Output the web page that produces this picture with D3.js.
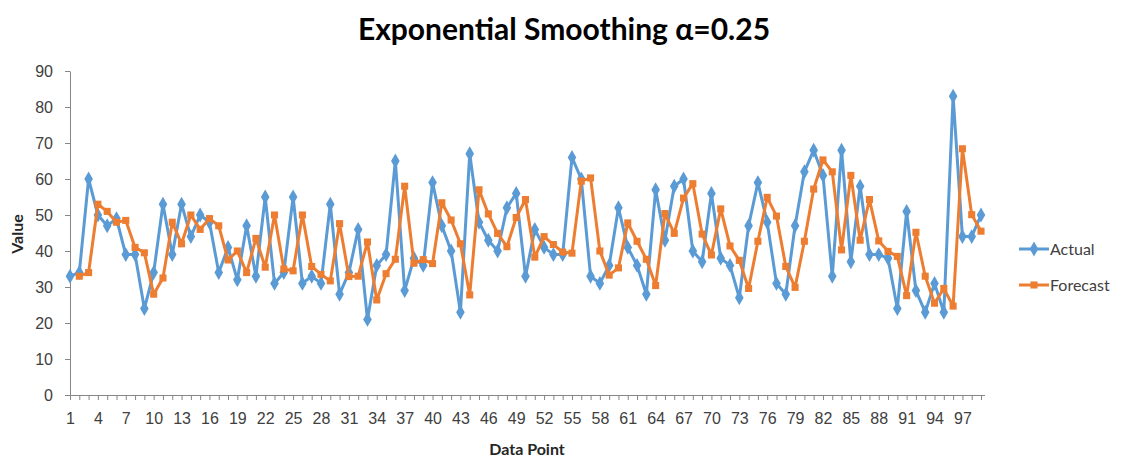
<!DOCTYPE html>
<html>
<head>
<meta charset="utf-8">
<script src="https://cdn.jsdelivr.net/npm/d3@7"></script>
<style>
  html, body { margin: 0; padding: 0; background: #fff; }
  svg { display: block; font-family: Lato, "Open Sans", sans-serif; }
  .axis path, .axis line { stroke: #868686; }
  .axis text { fill: #404040; font-size: 16px; }
</style>
</head>
<body>
<svg id="chart" width="1134" height="459"></svg>
<script>
// Data points 1..99
const points = d3.range(1, 100);

const actual = [
  33, 34, 60, 50, 47, 49, 39, 39, 24, 34,
  53, 39, 53, 44, 50, 48, 34, 41, 32, 47,
  33, 55, 31, 34, 55, 31, 33, 31, 53, 28,
  34, 46, 21, 36, 39, 65, 29, 38, 36, 59,
  47, 40, 23, 67, 48, 43, 40, 52, 56, 33,
  46, 41, 39, 39, 66, 60, 33, 31, 36, 52,
  41, 36, 28, 57, 43, 58, 60, 40, 37, 56,
  38, 36, 27, 47, 59, 48, 31, 28, 47, 62,
  68, 61, 33, 68, 37, 58, 39, 39, 38, 24,
  51, 29, 23, 31, 23, 83, 44, 44, 50
];

// Forecast begins at point 2
const forecast = [
  null, 33, 34, 53, 51, 48, 48.5, 41, 39.5, 28,
  32.5, 48, 42, 50, 46, 49, 47, 37.5, 40, 34,
  43.5, 35.5, 50, 35, 34.5, 50, 35.7, 33.5, 31.7, 47.6,
  32.9, 33, 42.5, 26.4, 33.7, 37.7, 58, 36.6, 37.6, 36.5,
  53.4, 48.6, 42, 27.8, 57, 50.3, 44.9, 41.2, 49.3, 54.3,
  38.3, 44, 41.8, 39.7, 39.4, 59.4, 60.3, 40, 33.3, 35.3,
  47.8, 42.7, 37.7, 30.4, 50.4, 44.9, 54.7, 58.7, 44.7, 38.9,
  51.7, 41.4, 37.4, 29.6, 42.7, 54.9, 49.7, 35.7, 29.9, 42.7,
  57.2, 65.3, 62, 40.3, 61, 43, 54.3, 42.8, 39.9, 38.5,
  27.6, 45.2, 33, 25.5, 29.6, 24.7, 68.4, 50.1, 45.5
];

const yTicks = [0, 10, 20, 30, 40, 50, 60, 70, 80, 90];
const xLabelEvery = 3;

const titleText = "Exponential Smoothing \u03B1=0.25";
const seriesNames = ["Actual", "Forecast"];
const colors = ["#5B9BD5", "#ED7D31"];

const svg = d3.select("#chart");

const x = d3.scalePoint().domain(points).range([70, 981]);
const y = d3.scaleLinear().domain([0, 90]).range([395, 71]);

// Title
svg.append("text")
  .attr("x", 564).attr("y", 40)
  .attr("text-anchor", "middle")
  .attr("font-size", 30).attr("font-weight", "bold")
  .attr("fill", "#000")
  .text(titleText);

// Y axis
svg.append("g")
  .attr("class", "axis")
  .attr("transform", "translate(70,0)")
  .call(d3.axisLeft(y).tickValues(yTicks).tickSize(5).tickPadding(12).tickSizeOuter(0));

// X axis: a tick per point, a label every third point
const xAxis = svg.append("g")
  .attr("class", "axis")
  .attr("transform", "translate(0,395)")
  .call(d3.axisBottom(x).tickSize(5).tickPadding(13).tickSizeOuter(0)
    .tickFormat(d => ((d - 1) % xLabelEvery === 0 ? String(d) : "")));
xAxis.select(".domain").attr("d", "M70,0.5H985");

// Axis titles
svg.append("text")
  .attr("transform", "translate(23,234) rotate(-90)")
  .attr("text-anchor", "middle")
  .attr("font-size", 16).attr("font-weight", "bold").attr("fill", "#262626")
  .text("Value");
svg.append("text")
  .attr("x", 527).attr("y", 455)
  .attr("text-anchor", "middle")
  .attr("font-size", 16).attr("font-weight", "bold").attr("fill", "#262626")
  .text("Data Point");

const series = [actual, forecast];
const diamond = d3.symbol().type(d3.symbolDiamond).size(64);
const square = d3.symbol().type(d3.symbolSquare).size(50);
const shapes = [diamond, square];

series.forEach((vals, si) => {
  const data = points.map((p, i) => ({ p, v: vals[i] })).filter(d => d.v != null);
  const line = d3.line().x(d => x(d.p)).y(d => y(d.v));
  const g = svg.append("g");
  g.append("path")
    .datum(data)
    .attr("d", line)
    .attr("fill", "none")
    .attr("stroke", colors[si])
    .attr("stroke-width", 3)
    .attr("stroke-linejoin", "round");
  g.selectAll("path.mark")
    .data(data)
    .join("path")
    .attr("class", "mark")
    .attr("transform", d => `translate(${x(d.p)},${y(d.v)})`)
    .attr("d", shapes[si])
    .attr("fill", colors[si]);
});

// Legend
const legend = svg.append("g");
seriesNames.forEach((name, i) => {
  const ly = 249 + i * 36;
  legend.append("line")
    .attr("x1", 1019).attr("x2", 1049).attr("y1", ly).attr("y2", ly)
    .attr("stroke", colors[i]).attr("stroke-width", 3);
  legend.append("path")
    .attr("transform", `translate(1034,${ly})`)
    .attr("d", shapes[i])
    .attr("fill", colors[i]);
  legend.append("text")
    .attr("x", 1050).attr("y", ly + 6)
    .attr("font-size", 16).attr("fill", "#404040")
    .text(name);
});
</script>
</body>
</html>
